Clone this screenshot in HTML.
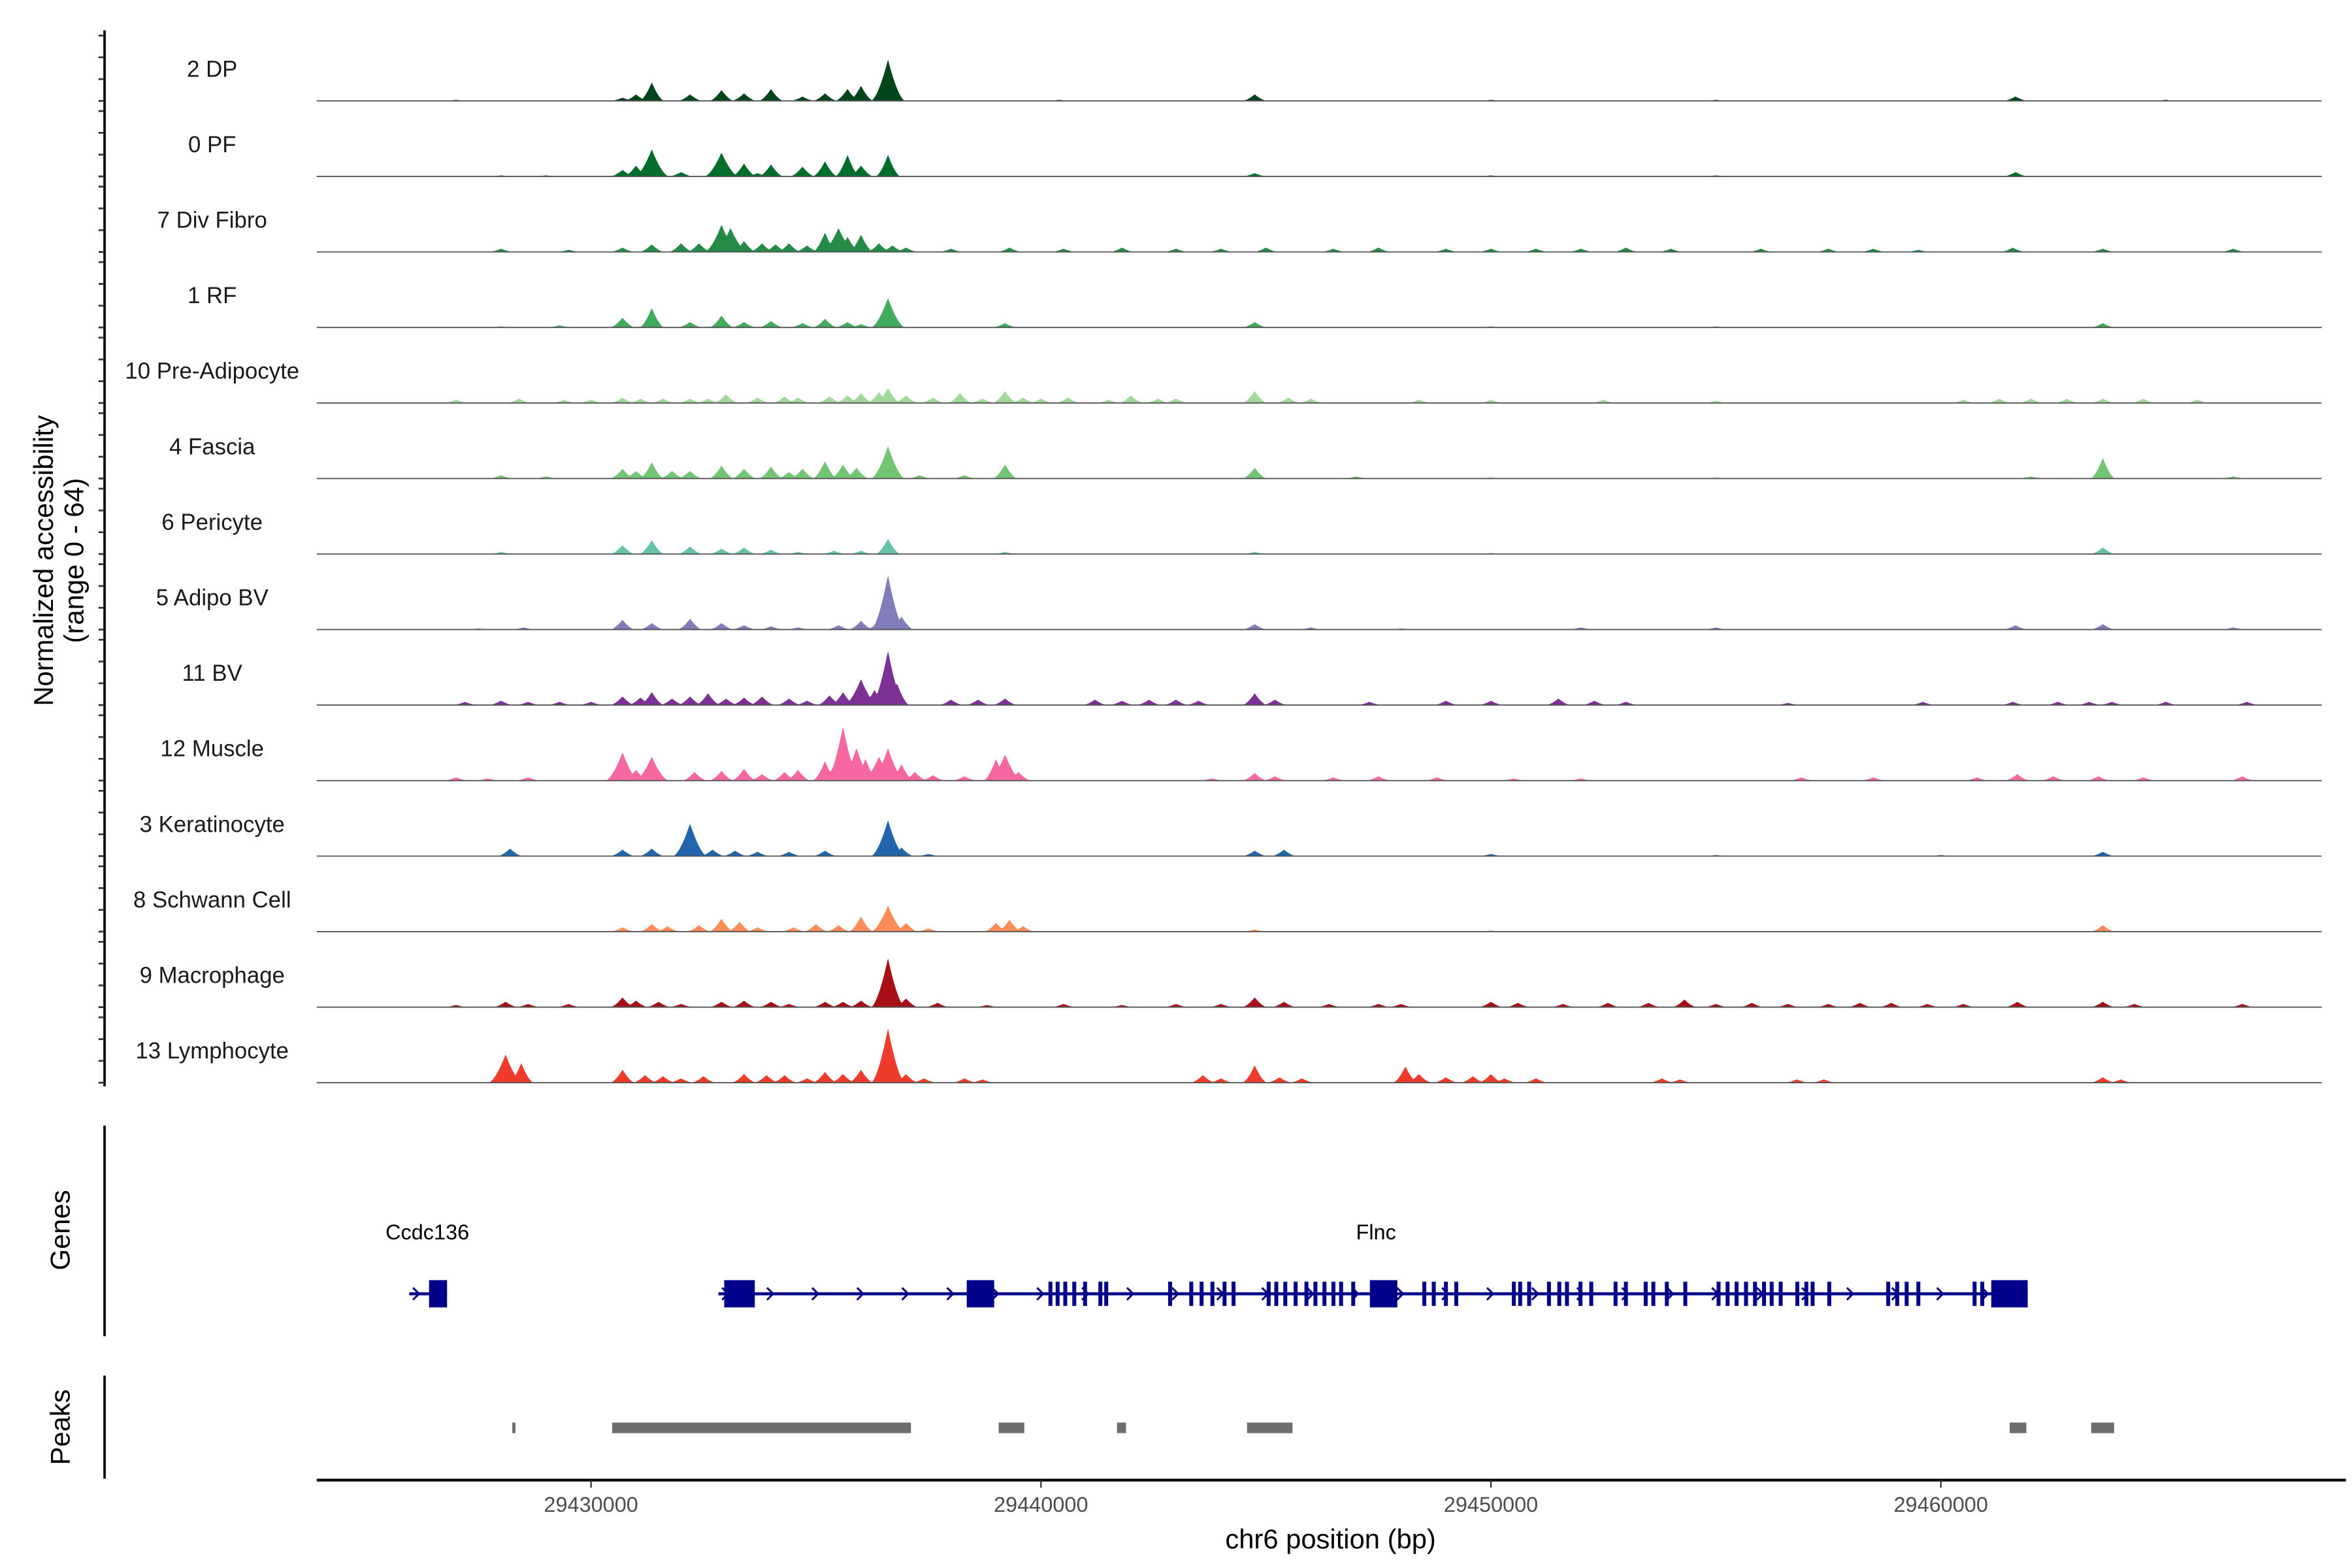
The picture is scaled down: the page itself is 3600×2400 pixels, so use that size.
<!DOCTYPE html>
<html><head><meta charset="utf-8"><style>
html,body{margin:0;padding:0;background:#fff;}
svg{display:block;font-family:"Liberation Sans",sans-serif;}
</style></head><body>
<svg id="chart" xmlns="http://www.w3.org/2000/svg" width="3600" height="2400" viewBox="0 0 1552 1035" preserveAspectRatio="none">
<g id="tracks"></g>
<g id="genes"></g>
<g id="peaks"></g>
<g id="axes"></g>
</svg>
<script>
const trackNames = ["2 DP","0 PF","7 Div Fibro","1 RF","10 Pre-Adipocyte","4 Fascia","6 Pericyte","5 Adipo BV","11 BV","12 Muscle","3 Keratinocyte","8 Schwann Cell","9 Macrophage","13 Lymphocyte"];
const trackColors = ["#00441b","#006d2c","#238b45","#41ab5d","#a1d99b","#74c476","#66c2a4","#807dba","#7b3294","#f768a1","#2166ac","#fc8d59","#a50f15","#ef3b2c"];
// peaks: [position kb offset from 29400000bp, accessibility 0-64]
const peaksDP = [[27,1],[30.7,3],[31.0,6],[31.35,17],[32.2,6],[32.9,10],[33.4,7],[34.0,11],[34.7,4],[35.2,7],[35.7,11],[36.0,14],[36.6,38],[40.4,1],[44.75,6],[50,1],[55,1],[61.66,4],[65,1]];
const peaksPF = [[28,1],[29,1],[30.7,6],[31.0,10],[31.35,25],[32.0,4],[32.9,22],[33.4,12],[33.7,3],[34.0,11],[34.7,9],[35.2,14],[35.7,20],[36.0,10],[36.6,20],[44.75,3],[50,1],[55,1],[61.66,4]];
const peaksDivFibro = [[28.0,3],[29.5,2],[30.7,4],[31.35,7],[32.0,8],[32.4,8],[32.9,25],[33.1,22],[33.4,10],[33.8,8],[34.1,7],[34.4,8],[34.8,6],[35.2,18],[35.5,22],[35.7,14],[36.0,16],[36.4,8],[36.7,6],[37.0,4],[38.0,3],[39.3,4],[40.5,3],[41.8,4],[43.0,3],[44.0,3],[45.0,4],[46.5,3],[47.5,4],[49.0,3],[50.0,3],[51.0,3],[52.0,3],[53.0,4],[54.0,3],[56.0,3],[57.5,3],[58.5,3],[59.5,2],[61.6,4],[63.6,3],[66.5,3]];
const peaksRF = [[28.0,1],[29.3,2],[30.7,9],[31.35,18],[32.2,5],[32.9,11],[33.4,5],[34.0,6],[34.7,4],[35.2,8],[35.7,5],[36.0,3],[36.6,27],[39.2,4],[44.75,5],[50,1],[55,1],[63.6,4]];
const peaksPreAdipo = [[27.0,3],[28.4,4],[29.4,3],[30.0,3],[30.7,5],[31.1,4],[31.6,4],[32.2,4],[32.6,4],[33.0,8],[33.7,5],[34.3,6],[34.6,5],[35.3,6],[35.7,7],[36.0,9],[36.4,10],[36.6,14],[37.0,7],[37.6,5],[38.2,9],[38.7,4],[39.2,11],[39.6,5],[40.0,4],[40.6,5],[41.5,3],[42.0,7],[42.6,4],[43.0,4],[44.75,11],[45.5,5],[46.0,4],[48.4,3],[50.0,3],[52.5,3],[55.0,2],[60.5,3],[61.3,4],[62.0,4],[62.8,4],[63.6,4],[64.5,4],[65.7,3]];
const peaksFascia = [[28.0,3],[29.0,2],[30.7,9],[31.0,7],[31.35,15],[31.8,7],[32.2,7],[32.9,12],[33.4,9],[34.0,11],[34.4,6],[34.7,9],[35.2,16],[35.6,13],[35.9,10],[36.6,30],[37.3,3],[38.3,3],[39.2,13],[44.75,10],[47.0,2],[50,1],[55,1],[62,2],[63.6,19],[66.5,2]];
const peaksPericyte = [[28.0,2],[30.7,8],[31.35,13],[32.2,7],[32.9,5],[33.4,6],[34.0,4],[34.6,2],[35.4,3],[36.0,3],[36.6,14],[39.2,2],[44.75,2],[50,1],[63.6,6]];
const peaksAdipoBV = [[27.5,1],[28.5,2],[30.7,9],[31.35,6],[32.2,10],[32.9,6],[33.4,4],[34.0,3],[34.6,2],[35.5,4],[36.0,8],[36.4,8],[36.6,50],[36.9,12],[44.75,5],[46,2],[48,1],[52,2],[55,2],[61.66,4],[63.6,5],[66.5,2]];
const peaksBV = [[27.2,3],[28.0,4],[28.6,3],[29.3,3],[30.0,3],[30.7,8],[31.1,7],[31.35,12],[31.8,6],[32.2,8],[32.6,11],[33.0,6],[33.4,7],[33.8,8],[34.4,6],[34.8,4],[35.3,9],[35.6,12],[36.0,24],[36.3,14],[36.6,50],[36.8,20],[38.0,5],[38.6,5],[39.2,6],[41.2,5],[41.8,4],[42.4,5],[43.0,5],[43.5,4],[44.75,11],[45.2,5],[47.3,3],[49.0,4],[50.0,4],[51.5,6],[52.3,4],[53.0,3],[56.6,2],[59.6,3],[61.6,3],[62.6,3],[63.3,3],[63.8,3],[65.0,3],[66.8,3]];
const peaksMuscle = [[27.0,3],[27.7,2],[28.6,3],[30.7,26],[31.0,10],[31.35,22],[32.3,8],[32.9,9],[33.4,11],[33.8,6],[34.3,8],[34.6,10],[35.2,18],[35.4,14],[35.6,50],[35.9,30],[36.1,20],[36.4,22],[36.6,30],[36.9,15],[37.2,8],[37.6,5],[38.3,4],[39.0,20],[39.2,24],[39.5,8],[43.8,2],[44.75,7],[45.2,4],[46.5,3],[47.5,4],[48.8,3],[50.5,2],[52,2],[56.9,3],[58.5,3],[60.8,3],[61.7,6],[62.5,4],[63.5,4],[64.5,3],[66.7,4]];
const peaksKerat = [[28.2,7],[30.7,6],[31.35,7],[32.2,30],[32.7,6],[33.2,5],[33.7,4],[34.4,4],[35.2,5],[36.6,33],[36.9,8],[37.5,2],[44.75,5],[45.4,6],[50.0,2],[55,1],[60,1],[63.6,4]];
const peaksSchwann = [[30.7,4],[31.35,7],[31.7,5],[32.4,6],[32.9,12],[33.3,9],[33.7,4],[34.5,4],[35.0,7],[35.5,6],[36.0,14],[36.6,24],[37.0,8],[37.5,3],[39.0,8],[39.3,11],[39.6,5],[44.75,2],[50,1],[63.6,6]];
const peaksMacro = [[27.0,2],[28.1,5],[28.6,3],[29.5,3],[30.7,9],[31.0,6],[31.5,5],[32.0,3],[32.9,5],[33.4,6],[34.0,5],[34.4,3],[35.2,5],[35.6,5],[36.0,6],[36.6,45],[37.0,8],[37.7,4],[38.8,2],[40.5,3],[41.8,2],[43.0,3],[44.0,3],[44.75,9],[45.4,5],[46.4,3],[47.5,3],[48.0,3],[50.0,5],[50.6,4],[51.6,3],[52.6,4],[53.5,4],[54.3,7],[55.0,3],[55.8,4],[56.6,3],[57.5,3],[58.2,4],[58.9,4],[59.7,3],[60.5,3],[61.7,5],[63.6,5],[64.3,3],[66.7,3]];
const peaksLympho = [[28.1,26],[28.45,18],[30.7,12],[31.2,7],[31.6,6],[32.0,4],[32.5,6],[33.4,8],[33.9,7],[34.3,7],[34.8,4],[35.2,10],[35.6,8],[36.0,12],[36.6,50],[37.0,8],[37.4,4],[38.3,4],[38.7,3],[43.6,7],[44.0,4],[44.75,16],[45.3,5],[45.8,4],[48.1,15],[48.4,8],[49.0,5],[49.6,6],[50.0,8],[50.3,4],[51.0,4],[53.8,4],[54.2,3],[56.8,3],[57.4,3],[63.6,5],[64.0,3]];
const trackPeaks = [peaksDP,peaksPF,peaksDivFibro,peaksRF,peaksPreAdipo,peaksFascia,peaksPericyte,peaksAdipoBV,peaksBV,peaksMuscle,peaksKerat,peaksSchwann,peaksMacro,peaksLympho];
// genes (kb offsets)
const geneCcdc136 = [25.96, 26.80];
const exonsCcdc136 = [[26.40,26.80]];
const geneFlnc = [32.83, 61.93];
const exonsFlncBig = [[32.96,33.64],[38.35,38.96],[47.31,47.92],[61.12,61.93]];
const exonsFlncThin = [40.21,40.37,40.54,40.74,40.98,41.32,41.45,42.87,43.34,43.57,43.81,44.08,44.28,45.06,45.23,45.43,45.66,45.9,46.1,46.3,46.5,46.67,46.94,48.52,48.73,49.0,49.23,50.51,50.65,50.85,51.29,51.52,51.69,51.99,52.23,52.77,53.0,53.44,53.61,53.91,54.32,55.06,55.26,55.46,55.67,55.87,56.07,56.24,56.44,56.81,57.01,57.15,57.52,58.83,59.03,59.24,59.5,60.75,60.92];
const peakRegions = [[28.25,28.32],[30.47,37.11],[39.06,39.63],[41.69,41.89],[44.58,45.59],[61.53,61.9],[63.34,63.85]];
const xTicks = [30,40,50,60];
const xTickLabels = ["29430000","29440000","29450000","29460000"];

const NS="http://www.w3.org/2000/svg";
function mk(tag, attrs, parent){const e=document.createElementNS(NS,tag);for(const k in attrs)e.setAttribute(k,attrs[k]);parent.appendChild(e);return e;}
const X = kb => 390 + (kb-30)*29.69;
const X0=209, X1=1532;
const kbFromX = x => 30 + (x-390)/29.69;
const base = i => 66.6 + i*49.85;
const Y = v => v*46/64;

const gT=document.getElementById('tracks');
trackNames.forEach((name,i)=>{
  const g=mk('g',{},gT);
  
  
  const b=base(i);
  const pk=trackPeaks[i];
  let d='M'+X0+' '+b;
  for(let x=X0;x<=X1;x+=0.5){
    const kb=kbFromX(x);let v=0;
    for(const p of pk){const t=Math.abs(kb-p[0]);const hw=p[1]>20?0.38:0.28;
      if(t<hw){const s=p[1]*Math.pow(1-t/hw,1.6);if(s>v)v=s;}}
    v=Math.min(v,64);
    d+='L'+x.toFixed(1)+' '+(b-Y(v)).toFixed(2);
  }
  d+='L'+X1+' '+b+'Z';
  const area=mk('path',{d:d,fill:trackColors[i]},g);
  
  
  const ln=mk('line',{x1:X0,x2:X1,y1:b,y2:b,stroke:'#555','stroke-width':0.8},g);
  
  
  const lb=mk('text',{x:140,y:b-16,'text-anchor':'middle','font-size':15,fill:'#1a1a1a'},g);
  lb.textContent=name;
  
  
});

const gA=document.getElementById('axes');
let ax=mk('line',{x1:69,x2:69,y1:20,y2:717,stroke:'#000','stroke-width':1.6},gA);


for(let i=0;i<14;i++){for(const v of [0,20,40,60]){const y=base(i)-Y(v);const t=mk('line',{x1:65,x2:69,y1:y,y2:y,stroke:'#333','stroke-width':1.2},gA);

}}
let yt=mk('text',{transform:'translate(35,370) rotate(-90)','text-anchor':'middle','font-size':18,fill:'#000'},gA);yt.textContent='Normalized accessibility';


let yt2=mk('text',{transform:'translate(55,370) rotate(-90)','text-anchor':'middle','font-size':18,fill:'#000'},gA);yt2.textContent='(range 0 - 64)';


let ga=mk('line',{x1:69,x2:69,y1:743,y2:882,stroke:'#000','stroke-width':1.6},gA);


let gt=mk('text',{transform:'translate(46,812) rotate(-90)','text-anchor':'middle','font-size':18,fill:'#000'},gA);gt.textContent='Genes';


let pa=mk('line',{x1:69,x2:69,y1:908,y2:976,stroke:'#000','stroke-width':1.6},gA);


let pt=mk('text',{transform:'translate(46,942) rotate(-90)','text-anchor':'middle','font-size':18,fill:'#000'},gA);pt.textContent='Peaks';


let xa=mk('line',{x1:209,x2:1548,y1:977,y2:977,stroke:'#000','stroke-width':1.8},gA);


xTicks.forEach((k,i)=>{const x=X(k);
  const t=mk('line',{x1:x,x2:x,y1:977,y2:982,stroke:'#333','stroke-width':1},gA);
  
  
  const l=mk('text',{x:x,y:998,'text-anchor':'middle','font-size':14,fill:'#4d4d4d'},gA);l.textContent=xTickLabels[i];
  
  });
let xt=mk('text',{x:878,y:1022,'text-anchor':'middle','font-size':18,fill:'#000'},gA);xt.textContent='chr6 position (bp)';



const gG=document.getElementById('genes');
const GC='#00008b', gy=854;
function drawGene(name, span, big, thin, lx){
  const g=mk('g',{},gG);
  
  
  mk('line',{x1:X(span[0]),x2:X(span[1]),y1:gy,y2:gy,stroke:GC,'stroke-width':2},g);
  for(let k=span[0]+0.15;k<span[1]-0.2;k+=1.0){
    const x=X(k);mk('path',{d:`M${x-2} ${gy-4}L${x+2} ${gy}L${x-2} ${gy+4}`,stroke:GC,fill:'none','stroke-width':1.3},g);
  }
  big.forEach(e=>{const r=mk('rect',{x:X(e[0]),y:gy-9,width:X(e[1])-X(e[0]),height:18,fill:GC},g);
    
    });
  thin.forEach(k=>{const r=mk('rect',{x:X(k)-1.3,y:gy-8,width:2.6,height:16,fill:GC},g);
    
    });
  const t=mk('text',{x:lx,y:818,'text-anchor':'middle','font-size':14,fill:'#000'},g);t.textContent=name;
  
  
}
drawGene('Ccdc136',geneCcdc136,exonsCcdc136,[],282);
drawGene('Flnc',geneFlnc,exonsFlncBig,exonsFlncThin,908);

const gP=document.getElementById('peaks');
peakRegions.forEach(p=>{const w=Math.max(X(p[1])-X(p[0]),2);
  const r=mk('rect',{x:X(p[0]),y:939,width:w,height:7,fill:'#6e6e6e'},gP);
  
  });
</script>
</body></html>
